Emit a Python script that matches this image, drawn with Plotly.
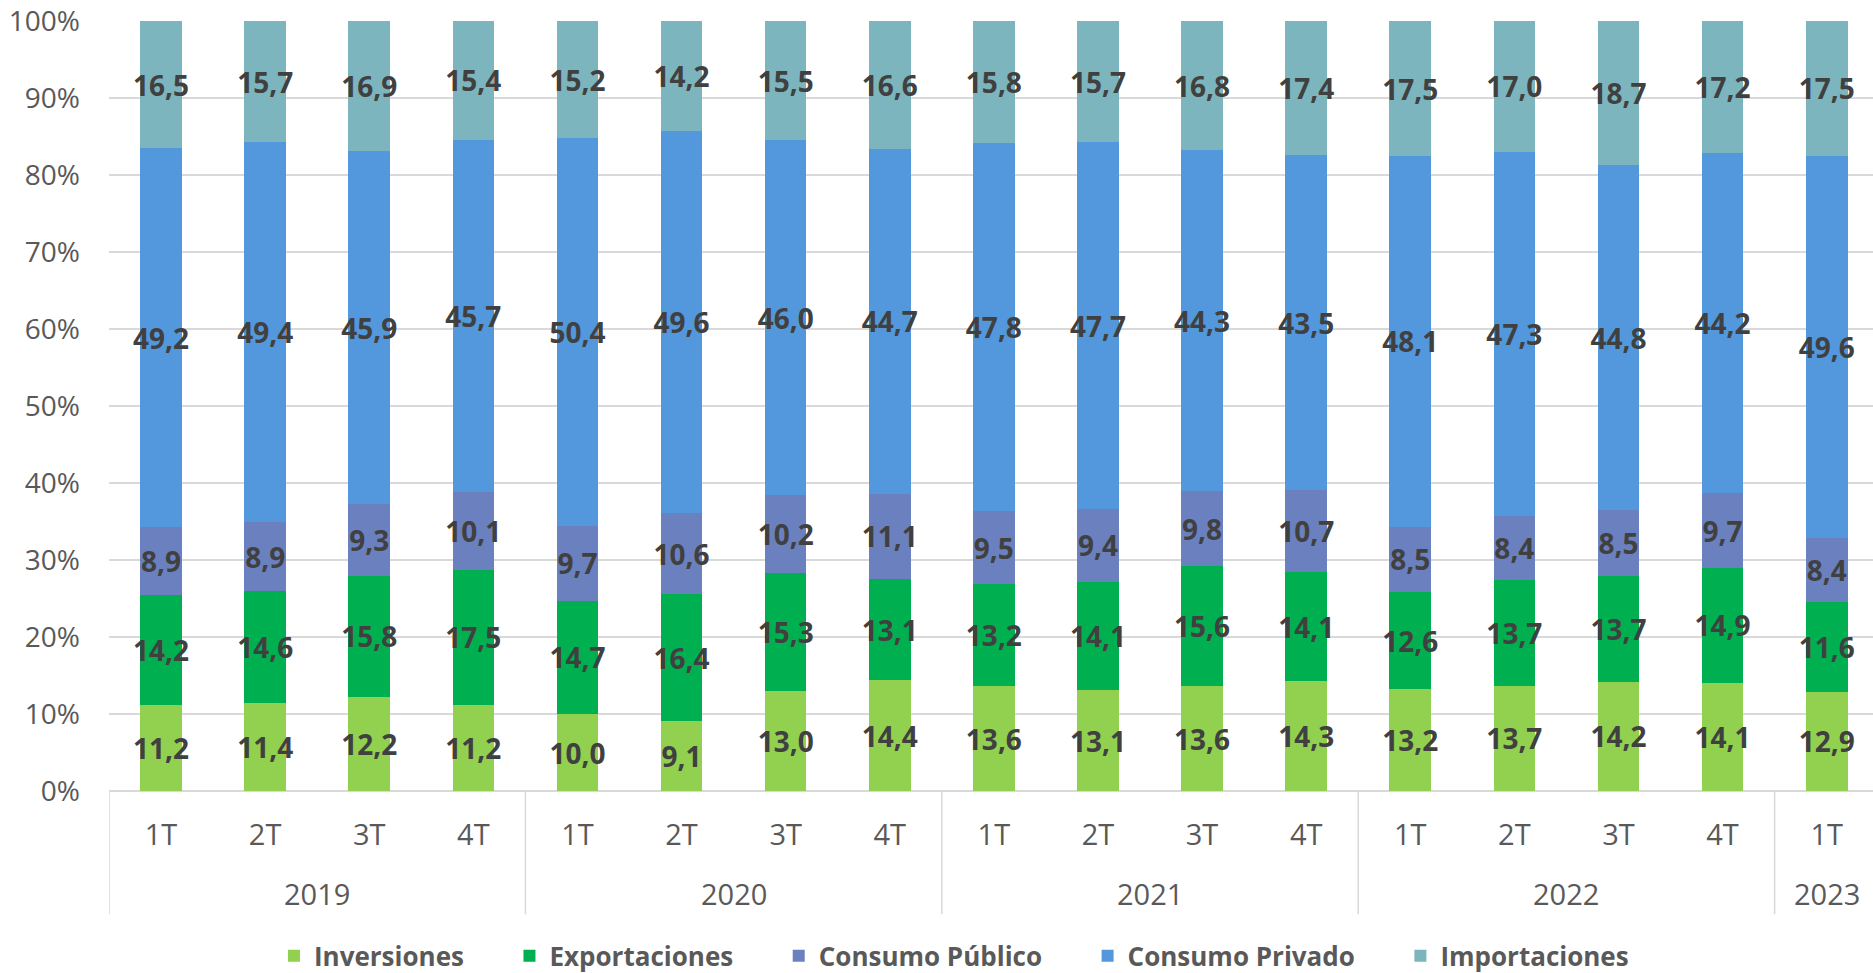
import plotly.graph_objects as go

quarters = ["1T", "2T", "3T", "4T", "1T", "2T", "3T", "4T", "1T", "2T", "3T", "4T",
            "1T", "2T", "3T", "4T", "1T"]
years = ["2019", "2020", "2021", "2022", "2023"]
year_sizes = [4, 4, 4, 4, 1]

inversiones = [11.2, 11.4, 12.2, 11.2, 10.0, 9.1, 13.0, 14.4, 13.6, 13.1, 13.6, 14.3,
               13.2, 13.7, 14.2, 14.1, 12.9]
exportaciones = [14.2, 14.6, 15.8, 17.5, 14.7, 16.4, 15.3, 13.1, 13.2, 14.1, 15.6, 14.1,
                 12.6, 13.7, 13.7, 14.9, 11.6]
consumo_publico = [8.9, 8.9, 9.3, 10.1, 9.7, 10.6, 10.2, 11.1, 9.5, 9.4, 9.8, 10.7,
                   8.5, 8.4, 8.5, 9.7, 8.4]
consumo_privado = [49.2, 49.4, 45.9, 45.7, 50.4, 49.6, 46.0, 44.7, 47.8, 47.7, 44.3, 43.5,
                   48.1, 47.3, 44.8, 44.2, 49.6]
importaciones = [16.5, 15.7, 16.9, 15.4, 15.2, 14.2, 15.5, 16.6, 15.8, 15.7, 16.8, 17.4,
                 17.5, 17.0, 18.7, 17.2, 17.5]

series = [
    ("Inversiones", inversiones, "#92D050"),
    ("Exportaciones", exportaciones, "#00B050"),
    ("Consumo Público", consumo_publico, "#6B81BF"),
    ("Consumo Privado", consumo_privado, "#5398DC"),
    ("Importaciones", importaciones, "#7CB5BD"),
]

FONT = "Open Sans"
PAD = "\u00a0" * 6
x = list(range(len(quarters)))

fig = go.Figure()
for i, (name, vals, color) in enumerate(series):
    fig.add_trace(go.Bar(
        x=x, y=vals, name=name + (PAD if i < len(series) - 1 else ""),
        marker=dict(color=color, line=dict(width=0)),
        width=0.4,
        text=[f"{v:.1f}".replace(".", ",") for v in vals],
        textposition="inside",
        insidetextanchor="middle",
        textangle=0,
        constraintext="none",
        textfont=dict(family=FONT, size=28, color="#404040", weight="bold"),
        hoverinfo="skip",
    ))

shapes = []
bounds = [-0.5]
acc = -0.5
for s in year_sizes:
    acc += s
    bounds.append(acc)
for b in bounds[:-1]:
    shapes.append(dict(type="line", xref="x", yref="paper", x0=b, x1=b, y0=0, y1=-0.16,
                       line=dict(color="#D9D9D9", width=1.5)))

annotations = []
start = 0
for yr, s in zip(years, year_sizes):
    center = start + (s - 1) / 2
    annotations.append(dict(x=center, y=-0.1325, xref="x", yref="paper", text=yr,
                            showarrow=False, yanchor="middle",
                            font=dict(family=FONT, size=29, color="#595959")))
    start += s

fig.update_layout(
    barmode="stack",
    barnorm="percent",
    width=1873, height=973,
    margin=dict(l=109, r=0, t=21, b=182, autoexpand=False),
    paper_bgcolor="white", plot_bgcolor="white",
    showlegend=True,
    legend=dict(orientation="h", x=0.479, xanchor="center", y=-0.214, yanchor="middle",
                font=dict(family=FONT, size=26, color="#595959", weight="bold"),
                traceorder="normal", itemclick=False),
    xaxis=dict(range=[-0.5, 16.445], tickmode="array", tickvals=x, ticktext=quarters,
               showgrid=False, zeroline=False, showline=False, ticks="",
               tickfont=dict(family=FONT, size=29, color="#595959"),
               ticklabelstandoff=24, automargin=False, fixedrange=True),
    yaxis=dict(range=[0, 100.01], tickmode="array", tickvals=list(range(0, 101, 10)),
               ticktext=[f"{v}%" for v in range(0, 101, 10)],
               showgrid=True, gridcolor="#D9D9D9", gridwidth=1.5,
               zeroline=True, zerolinecolor="#D9D9D9", zerolinewidth=1.5,
               showline=False, ticks="",
               tickfont=dict(family=FONT, size=28, color="#595959"),
               ticklabelstandoff=28, automargin=False, ticklabeloverflow="allow",
               fixedrange=True),
    shapes=shapes,
    annotations=annotations,
)

fig.write_html("out.html", config={"displayModeBar": False},
               post_script="document.body.style.margin='0px';document.body.style.overflow='hidden';")
